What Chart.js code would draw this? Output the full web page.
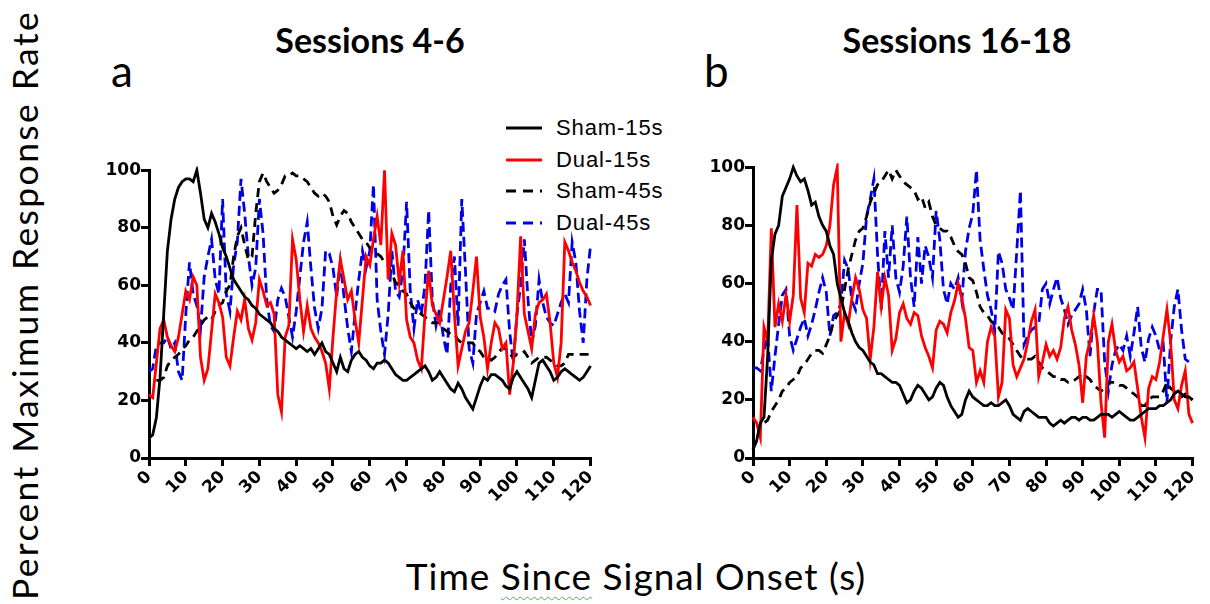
<!DOCTYPE html>
<html lang="en">
<head>
<meta charset="UTF-8" />
<title>Percent Maximum Response Rate</title>
<script src="https://cdn.jsdelivr.net/npm/chart.js"></script>
<style>
  body { margin: 0; width: 1210px; height: 604px; background: #fff; position: relative; overflow: hidden; font-family: Lato, sans-serif; }
  .txt { position: absolute; white-space: nowrap; color: #000; line-height: 1; }
  canvas { position: absolute; }
  #legend { position: absolute; left: 506px; top: 112px; font-family: "Liberation Sans", Arial, sans-serif; font-size: 22px; letter-spacing: 0.9px; }
  #legend .row { height: 31.7px; display: flex; align-items: center; }
  #legend svg { margin-right: 14px; }
</style>
</head>
<body>

<div class="txt" style="left:370px; top:23px; transform:translateX(-50%); font-weight:bold; font-size:34px;">Sessions 4-6</div>
<div class="txt" style="left:957px; top:23px; transform:translateX(-50%); font-weight:bold; font-size:34px;">Sessions 16-18</div>
<div class="txt" style="left:111px; top:48px; font-size:44px;">a</div>
<div class="txt" style="left:704px; top:48px; font-size:44px;">b</div>

<div class="txt" style="left:25px; top:305px; transform:translate(-50%,-50%) rotate(-90deg); font-size:35.5px; letter-spacing:2.4px;">Percent Maximum Response Rate</div>
<div class="txt" style="left:636px; top:557px; transform:translateX(-50%); font-size:37px; letter-spacing:1px;">Time <span style="text-decoration: underline wavy #4caf50; text-underline-offset: 6px; text-decoration-thickness: 1px;">Since</span> Signal Onset (s)</div>

<div id="legend"></div>

<canvas id="chartA" width="511" height="358" style="left:95px; top:160px;"></canvas>
<canvas id="chartB" width="509" height="361" style="left:699px; top:157px;"></canvas>

<script>
// time axis, one sample per second
const seconds = Array.from({ length: 121 }, (_, i) => i);
const xTicks = [0, 10, 20, 30, 40, 50, 60, 70, 80, 90, 100, 110, 120];
const yTicks = [0, 20, 40, 60, 80, 100];
const seriesNames = ['Sham-15s', 'Dual-15s', 'Sham-45s', 'Dual-45s'];

// Sessions 4-6
const sham15A = [7, 8, 14, 28, 50, 72, 83, 90, 94, 96, 97, 97, 96, 100, 92, 83, 80, 85, 82, 78,
  73, 70, 66, 62, 60, 58, 56, 55, 53, 52, 50, 49, 48, 47, 45, 44, 42, 41, 40, 39,
  38, 39, 38, 37, 38, 36, 38, 40, 37, 36, 33, 30, 35, 31, 30, 34, 36, 37, 35, 34,
  32, 31, 33, 33, 34, 33, 31, 29, 28, 27, 27, 28, 29, 30, 31, 32, 30, 27, 28, 30,
  28, 26, 24, 23, 26, 24, 21, 19, 17, 21, 25, 28, 27, 29, 29, 28, 27, 25, 24, 28,
  30, 28, 26, 24, 21, 27, 33, 34, 32, 30, 27, 28, 30, 31, 30, 29, 28, 27, 28, 30, 32];
const dual15A = [22, 21, 33, 45, 48, 42, 39, 37, 42, 50, 58, 55, 63, 60, 35, 27, 31, 44, 57, 54,
  49, 35, 32, 42, 51, 48, 55, 45, 41, 47, 62, 58, 53, 54, 50, 22, 16, 42, 46, 76,
  69, 55, 44, 53, 45, 42, 40, 37, 33, 24, 42, 58, 69, 62, 55, 58, 48, 40, 55, 70,
  67, 76, 84, 74, 100, 62, 78, 74, 61, 72, 48, 42, 40, 34, 31, 50, 65, 53, 50, 47,
  55, 63, 72, 50, 32, 38, 44, 47, 58, 70, 49, 42, 31, 40, 47, 45, 38, 40, 22, 33,
  50, 77, 50, 44, 38, 50, 54, 55, 57, 47, 33, 28, 40, 75, 72, 68, 65, 61, 58, 56, 53];
const sham45A = [null, null, 27, 27, 28, 32, 34, 35, 36, 38, 39, 41, 42, 44, 46, 48, 49, 48, 51, 53,
  54, 58, 60, 70, 77, 80, 74, 69, 70, 85, 96, 99, 96, 94, 92, 93, 95, 98, 98, 99,
  98, 98, 97, 96, 94, 92, 91, 92, 91, 89, 84, 81, 84, 86, 85, 82, 80, 78, 76, 75,
  73, 72, 71, 70, 68, 67, 64, 61, 60, 58, 57, 54, 52, 51, 50, 49, 48, 47, 47, 47,
  45, 44, 43, 43, 41, 40, 40, 40, 40, 38, 37, 35, 35, 34, 35, 37, 38, 38, 36, 35,
  36, 36, 37, 35, 33, 34, 35, 35, 35, 34, 33, 32, 32, 33, 36, 36, 36, 36, 36, 36, 36];
const dual45A = [30, 31, 39, 40, 40, 42, 38, 40, 30, 27, 50, 68, 57, 53, 45, 63, 70, 76, 62, 57,
  90, 57, 51, 67, 75, 97, 85, 70, 60, 66, 90, 78, 55, 46, 44, 55, 59, 56, 49, 42,
  51, 63, 75, 82, 66, 52, 45, 52, 72, 71, 66, 56, 68, 56, 45, 37, 50, 62, 72, 66,
  72, 95, 55, 44, 36, 50, 72, 58, 56, 65, 89, 58, 45, 55, 50, 60, 86, 55, 46, 52,
  42, 36, 60, 70, 46, 90, 65, 38, 33, 50, 54, 58, 52, 52, 51, 57, 60, 62, 44, 33,
  50, 60, 76, 55, 40, 46, 62, 54, 49, 47, 46, 50, 54, 57, 54, 75, 68, 51, 40, 62, 74];

// Sessions 16-18
const sham15B = [3, 6, 12, 14, 35, 68, 77, 80, 90, 93, 96, 100, 97, 95, 96, 92, 87, 88, 83, 80,
  78, 73, 70, 60, 55, 50, 47, 43, 40, 38, 37, 35, 33, 32, 29, 29, 28, 27, 26, 26,
  25, 22, 19, 20, 23, 25, 24, 22, 20, 21, 24, 26, 25, 21, 18, 16, 14, 15, 20, 23,
  21, 20, 19, 18, 18, 19, 18, 18, 19, 20, 18, 15, 14, 13, 16, 17, 16, 15, 14, 14,
  14, 12, 11, 12, 13, 12, 13, 14, 14, 13, 14, 14, 13, 13, 14, 15, 15, 15, 14, 15,
  16, 15, 14, 13, 13, 14, 15, 16, 17, 17, 17, 18, 18, 19, 20, 22, 23, 22, 21, 21, 20];
const dual15B = [14, 12, 7, 45, 40, 79, 45, 53, 47, 56, 47, 56, 87, 55, 50, 67, 66, 70, 69, 70,
  73, 80, 94, 100, 40, 50, 46, 55, 62, 58, 51, 48, 34, 45, 64, 52, 62, 56, 37, 41,
  50, 53, 48, 46, 50, 49, 42, 38, 35, 31, 44, 47, 46, 43, 50, 54, 60, 55, 48, 38,
  37, 26, 30, 26, 40, 45, 42, 21, 26, 51, 48, 32, 28, 31, 34, 40, 47, 51, 28, 33,
  39, 35, 37, 34, 38, 48, 52, 44, 39, 32, 19, 35, 40, 49, 40, 19, 7, 40, 46, 37,
  33, 35, 30, 31, 33, 24, 14, 7, 24, 28, 27, 33, 42, 51, 40, 20, 17, 25, 30, 15, 12];
const sham45B = [3, 6, 11, 12, 13, 16, 18, 20, 23, 24, 26, 27, 28, 31, 32, 34, 36, 37, 37, 36,
  39, 42, 47, 49, 51, 58, 65, 70, 75, 78, 79, 83, 88, 91, 94, 95, 97, 99, 96, 99,
  97, 95, 94, 93, 92, 89, 90, 86, 88, 83, 80, 79, 78, 78, 76, 73, 71, 70, 67, 62,
  61, 57, 52, 50, 49, 47, 46, 45, 43, 42, 41, 39, 37, 35, 34, 34, 34, 35, 33, 31,
  30, 29, 28, 28, 27, 27, 26, 26, 27, 28, 29, 28, 27, 25, 24, 23, 24, 26, 26, 26,
  25, 25, 24, 23, 22, 21, 18, 18, 20, 21, 21, 21, 23, 26, 24, 23, 21, 21, 22, 21, 20];
const dual45B = [31, 31, 30, 37, 42, 23, 35, 46, 56, 58, 42, 37, 41, 45, 48, 42, 46, 51, 57, 62,
  57, 42, 49, 50, 53, 68, 65, 54, 51, 60, 67, 83, 89, 96, 70, 51, 78, 62, 80, 62,
  57, 66, 83, 62, 52, 76, 60, 73, 69, 62, 85, 75, 58, 53, 60, 58, 62, 54, 71, 79,
  84, 99, 75, 65, 56, 51, 44, 71, 67, 58, 55, 51, 71, 92, 39, 42, 44, 45, 46, 58,
  60, 53, 58, 62, 55, 51, 46, 49, 51, 53, 58, 51, 35, 50, 58, 58, 33, 23, 32, 37,
  39, 37, 42, 35, 43, 52, 38, 33, 41, 45, 42, 37, 39, 19, 40, 52, 58, 44, 34, 33, 34];

const lineStyles = [
  { color: '#000000', dash: [] },
  { color: '#ff0000', dash: [] },
  { color: '#000000', dash: [9, 6] },
  { color: '#0000e6', dash: [10, 5] }
];

function toPoints(values) {
    return seconds.map((t, i) => ({ x: t, y: values[i] }));
}

function axisStyle(extra) {
    return Object.assign({
        grid: { drawOnChartArea: false, drawTicks: true, tickLength: 8, lineWidth: 3, color: '#000' },
        border: { display: true, width: 3, color: '#000' }
    }, extra);
}

const tickFont = { family: 'DejaVu Sans', weight: 'bold', size: 17 };

function makePanel(id, seriesList) {
    const ctx = document.getElementById(id).getContext('2d');
    return new Chart(ctx, {
        type: 'line',
        data: {
            datasets: seriesList.map((values, i) => ({
                label: seriesNames[i],
                data: toPoints(values),
                borderColor: lineStyles[i].color,
                borderDash: lineStyles[i].dash,
                borderWidth: 2.8,
                pointRadius: 0,
                tension: 0,
                fill: false,
                clip: 4
            }))
        },
        options: {
            responsive: false,
            animation: false,
            devicePixelRatio: 1,
            layout: { padding: { top: 10, right: 15, left: 0, bottom: 0 } },
            plugins: { legend: { display: false }, tooltip: { enabled: false } },
            scales: {
                x: axisStyle({
                    type: 'linear',
                    min: 0,
                    max: 120,
                    afterFit: (s) => { s.height = 60; },
                    afterBuildTicks: (s) => { s.ticks = xTicks.map(v => ({ value: v })); },
                    ticks: { font: tickFont, color: '#000', minRotation: 45, maxRotation: 45, autoSkip: false, padding: 1 }
                }),
                y: axisStyle({
                    min: 0,
                    max: 100,
                    afterFit: (s) => { s.width = 54; },
                    afterBuildTicks: (s) => { s.ticks = yTicks.map(v => ({ value: v })); },
                    ticks: { font: tickFont, color: '#000', padding: 0 }
                })
            }
        }
    });
}

makePanel('chartA', [sham15A, dual15A, sham45A, dual45A]);
makePanel('chartB', [sham15B, dual15B, sham45B, dual45B]);

// legend, shared by both panels
const legend = document.getElementById('legend');
seriesNames.forEach((name, i) => {
    const st = lineStyles[i];
    const row = document.createElement('div');
    row.className = 'row';
    row.innerHTML = '<svg width="36" height="4"><line x1="0" y1="2" x2="36" y2="2" stroke="' + st.color +
        '" stroke-width="3" stroke-dasharray="' + (st.dash.length ? '10,7' : 'none') + '"/></svg>' + name;
    legend.appendChild(row);
});
</script>
</body>
</html>
